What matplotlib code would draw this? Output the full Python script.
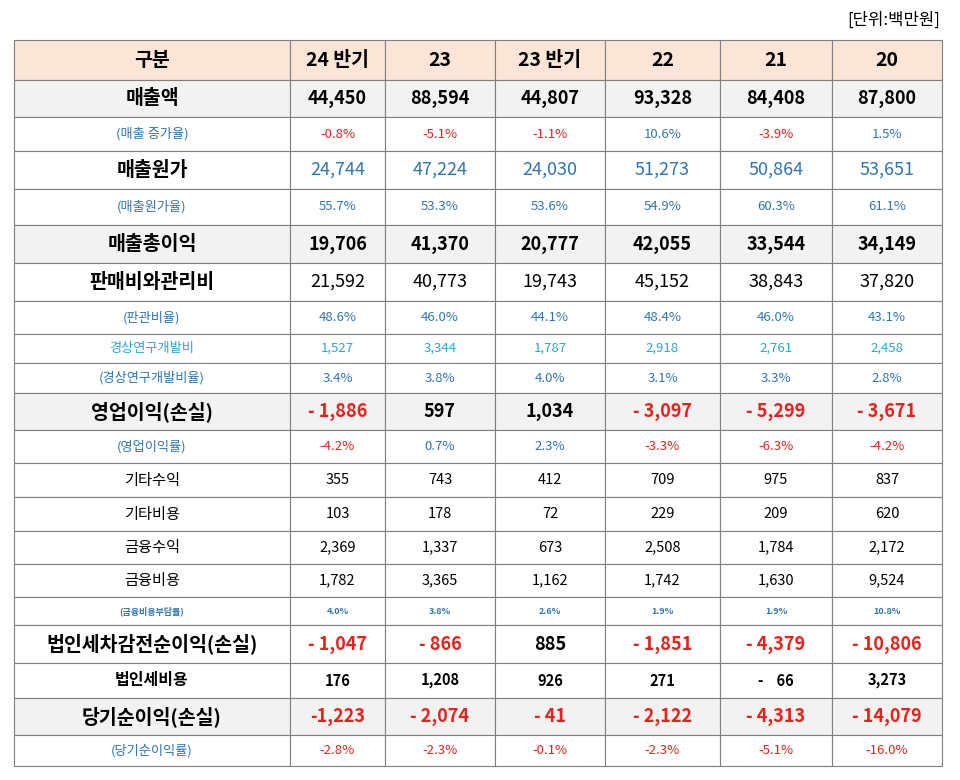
import matplotlib as mpl
mpl.use('Agg')
import matplotlib.pyplot as plt
from matplotlib.patches import Rectangle

plt.rcParams['font.family'] = ['Noto Sans CJK JP', 'Noto Sans CJK KR', 'Noto Sans CJK SC',
                               'Noto Sans CJK TC', 'DejaVu Sans']

# data
periods = ['24 반기', '23', '23 반기', '22', '21', '20']
row_labels = ['매출액', '(매출 증가율)', '매출원가', '(매출원가율)', '매출총이익', '판매비와관리비',
              '(판관비율)', '경상연구개발비', '(경상연구개발비율)', '영업이익(손실)', '(영업이익률)',
              '기타수익', '기타비용', '금융수익', '금융비용', '(금융비용부담률)',
              '법인세차감전순이익(손실)', '법인세비용', '당기순이익(손실)', '(당기순이익률)']
values = [
    ['44,450', '88,594', '44,807', '93,328', '84,408', '87,800'],
    ['-0.8%', '-5.1%', '-1.1%', '10.6%', '-3.9%', '1.5%'],
    ['24,744', '47,224', '24,030', '51,273', '50,864', '53,651'],
    ['55.7%', '53.3%', '53.6%', '54.9%', '60.3%', '61.1%'],
    ['19,706', '41,370', '20,777', '42,055', '33,544', '34,149'],
    ['21,592', '40,773', '19,743', '45,152', '38,843', '37,820'],
    ['48.6%', '46.0%', '44.1%', '48.4%', '46.0%', '43.1%'],
    ['1,527', '3,344', '1,787', '2,918', '2,761', '2,458'],
    ['3.4%', '3.8%', '4.0%', '3.1%', '3.3%', '2.8%'],
    ['- 1,886', '597', '1,034', '- 3,097', '- 5,299', '- 3,671'],
    ['-4.2%', '0.7%', '2.3%', '-3.3%', '-6.3%', '-4.2%'],
    ['355', '743', '412', '709', '975', '837'],
    ['103', '178', '72', '229', '209', '620'],
    ['2,369', '1,337', '673', '2,508', '1,784', '2,172'],
    ['1,782', '3,365', '1,162', '1,742', '1,630', '9,524'],
    ['4.0%', '3.8%', '2.6%', '1.9%', '1.9%', '10.8%'],
    ['- 1,047', '- 866', '885', '- 1,851', '- 4,379', '- 10,806'],
    ['176', '1,208', '926', '271', '-    66', '3,273'],
    ['-1,223', '- 2,074', '- 41', '- 2,122', '- 4,313', '- 14,079'],
    ['-2.8%', '-2.3%', '-0.1%', '-2.3%', '-5.1%', '-16.0%'],
]

# style per row: (label size, label bold, label color, value size, value bold, value color mode, bg, height)
BLUE = '#2e75b6'
CYAN = '#2aa7d6'
RED = '#e8221b'
GRAY = '#f2f2f2'
styles = [
    (14, True, 'black', 13, True, 'black', GRAY, 37),
    (9.5, False, BLUE, 9.5, False, 'sign', 'white', 34),
    (14, True, 'black', 13, False, BLUE, 'white', 38),
    (9.5, False, BLUE, 9.5, False, BLUE, 'white', 36),
    (14, True, 'black', 13, True, 'black', GRAY, 38),
    (14, True, 'black', 13, False, 'black', 'white', 38),
    (9.5, False, BLUE, 9.5, False, BLUE, 'white', 33),
    (9.5, False, CYAN, 9.5, False, CYAN, 'white', 29),
    (9.5, False, BLUE, 9.5, False, BLUE, 'white', 30),
    (14, True, 'black', 13, True, 'neg', GRAY, 37),
    (9.5, False, BLUE, 9.5, False, 'sign', 'white', 33),
    (11, False, 'black', 10.5, False, 'black', 'white', 34),
    (11, False, 'black', 10.5, False, 'black', 'white', 34),
    (11, False, 'black', 10.5, False, 'black', 'white', 33),
    (11, False, 'black', 10.5, False, 'black', 'white', 33),
    (6.5, True, BLUE, 6.5, True, BLUE, 'white', 28),
    (14, True, 'black', 13, True, 'neg', 'white', 38),
    (11.5, True, 'black', 10.5, True, 'black', 'white', 35),
    (14, True, 'black', 13, True, 'neg', GRAY, 37),
    (9.5, False, BLUE, 9.5, False, 'neg', 'white', 31),
]

col_edges = [14, 290, 385, 495, 605, 720, 832, 942]
top = 40
header_h = 40

fig = plt.figure(figsize=(9.6, 7.8), dpi=100)
ax = fig.add_axes([0, 0, 1, 1])
ax.set_xlim(0, 960)
ax.set_ylim(780, 0)
ax.axis('off')

ax.text(940, 20, '[단위:백만원]', ha='right', va='center', fontsize=12)

def cell(x0, x1, y0, h, bg):
    ax.add_patch(Rectangle((x0, y0), x1 - x0, h, facecolor=bg, edgecolor='#7f7f7f', linewidth=0.8))

# header
for c in range(7):
    cell(col_edges[c], col_edges[c + 1], top, header_h, '#fbe5d6')
    txt = '구분' if c == 0 else periods[c - 1]
    ax.text((col_edges[c] + col_edges[c + 1]) / 2, top + header_h / 2, txt, ha='center', va='center',
            fontsize=14, fontweight='bold')

y = top + header_h
for label, vals, st in zip(row_labels, values, styles):
    ls, lb, lc, vs, vb, vc, bg, h = st
    for c in range(7):
        cell(col_edges[c], col_edges[c + 1], y, h, bg)
    ax.text((col_edges[0] + col_edges[1]) / 2, y + h / 2, label, ha='center', va='center',
            fontsize=ls, fontweight='bold' if lb else 'normal', color=lc)
    for c, v in enumerate(vals):
        neg = v.strip().startswith('-') and v.strip() != '-    66'
        if vc == 'sign':
            color = RED if neg else BLUE
        elif vc == 'neg':
            color = RED if neg else 'black'
        else:
            color = vc
        ax.text((col_edges[c + 1] + col_edges[c + 2]) / 2, y + h / 2, v, ha='center', va='center',
                fontsize=vs, fontweight='bold' if vb else 'normal', color=color)
    y += h

fig.savefig('out.png', dpi=100)
